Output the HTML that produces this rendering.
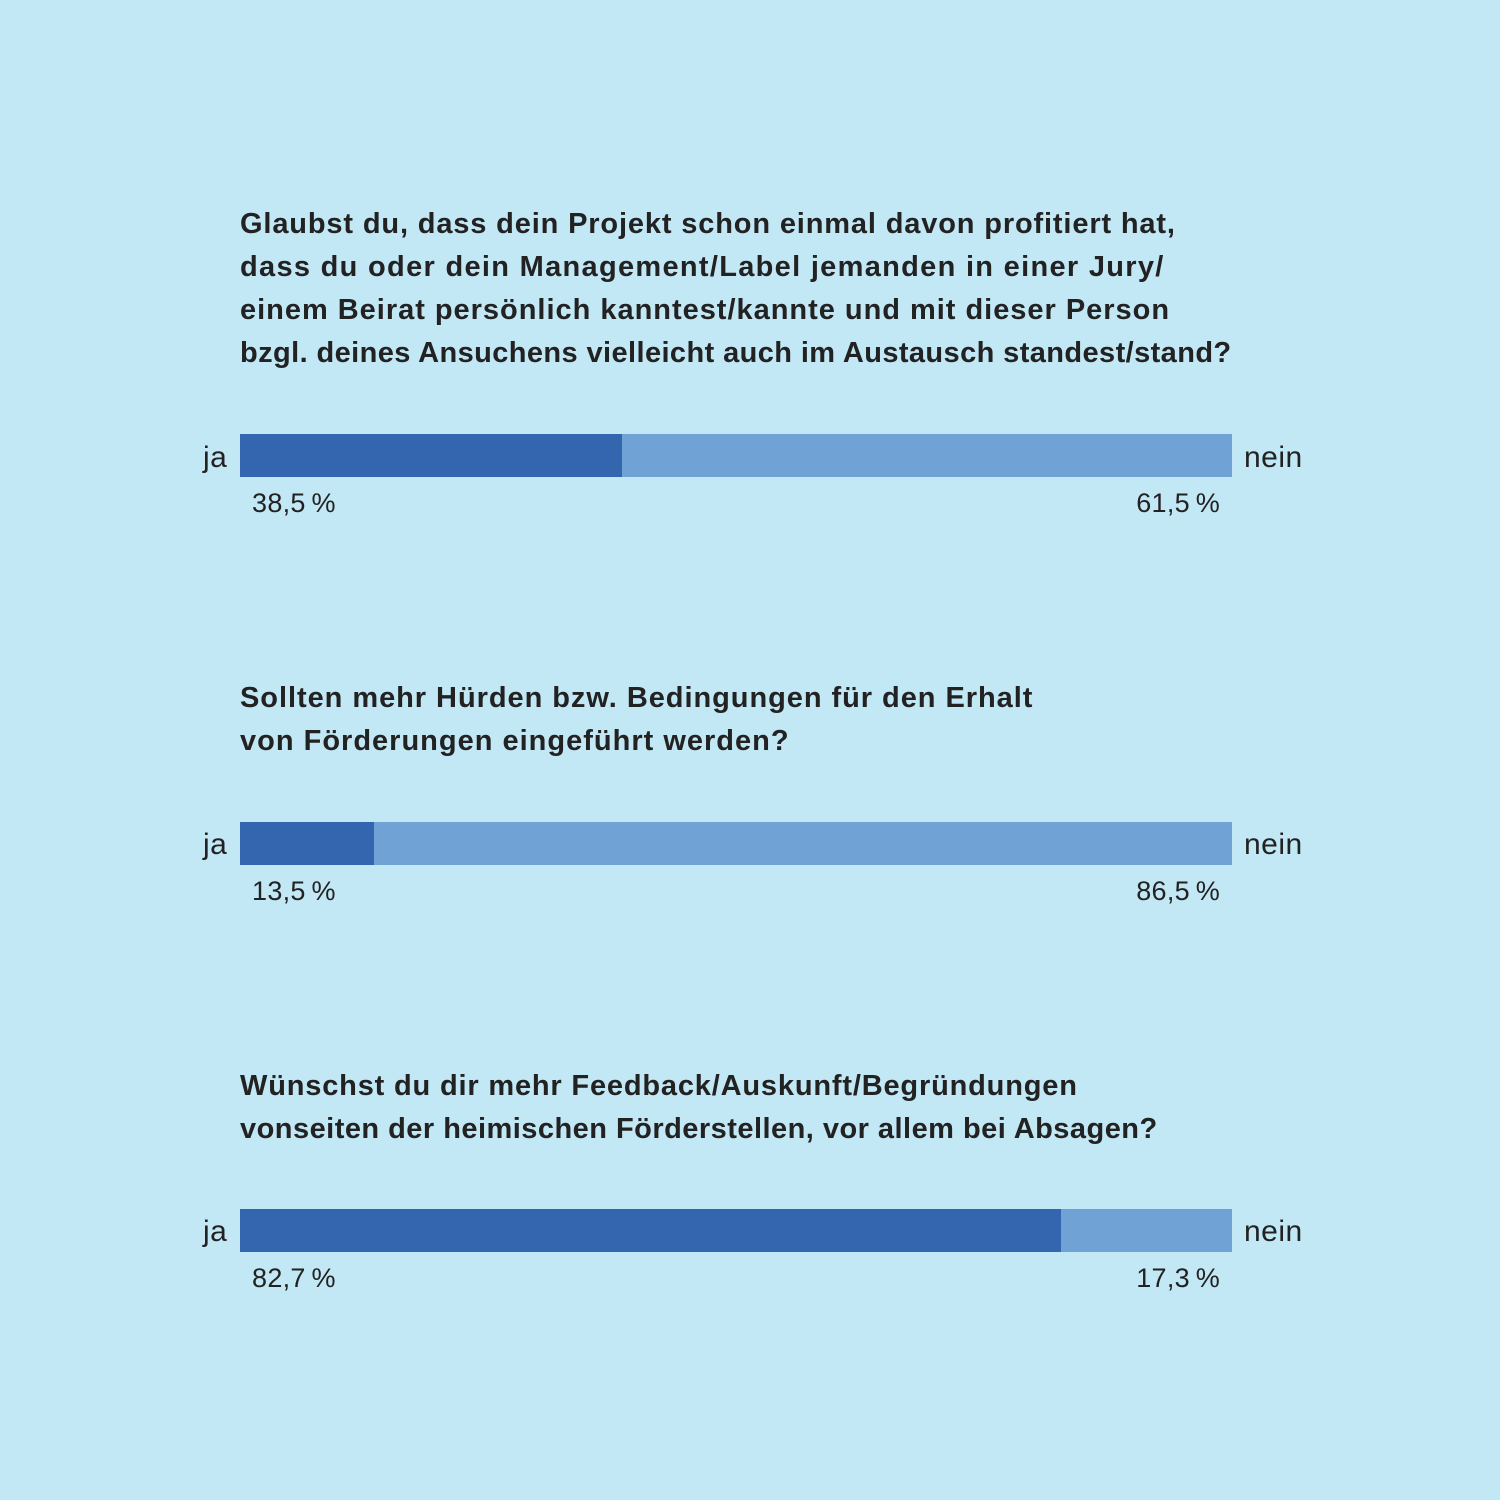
<!DOCTYPE html>
<html><head><meta charset="utf-8"><style>
body{margin:0;width:1500px;height:1500px;background:#c2e7f5;font-family:"Liberation Sans",sans-serif;color:#222;position:relative;overflow:hidden}
.q{position:absolute;left:240px;font-weight:bold;font-size:29px;line-height:43px;letter-spacing:0.7px;white-space:nowrap}
.q span{display:block}
.bar{position:absolute;left:240px;width:992px;height:43px;background:#70a2d5}
.bar div{height:100%;background:#3466b0}
.t{position:absolute;font-size:30px;line-height:43px;letter-spacing:0.5px}
.p{position:absolute;font-size:27px;line-height:30px;letter-spacing:0.3px}
</style></head><body>
<div class="q" style="top:203px"><span style="letter-spacing:0.85px">Glaubst du, dass dein Projekt schon einmal davon profitiert hat,</span><span style="letter-spacing:1.3px">dass du oder dein Management/Label jemanden in einer Jury/</span><span style="letter-spacing:0.98px">einem Beirat persönlich kanntest/kannte und mit dieser Person</span><span style="letter-spacing:0.4px">bzgl. deines Ansuchens vielleicht auch im Austausch standest/stand?</span></div>
<div class="t" style="left:203px;top:436px">ja</div>
<div class="bar" style="top:434px"><div style="width:382px"></div></div>
<div class="t" style="left:1244px;top:436px">nein</div>
<div class="p" style="left:252px;top:488px">38,5&#8201;%</div>
<div class="p" style="right:280px;top:488px">61,5&#8201;%</div>

<div class="q" style="top:677px"><span style="letter-spacing:0.95px">Sollten mehr Hürden bzw. Bedingungen für den Erhalt</span><span style="letter-spacing:1px">von Förderungen eingeführt werden?</span></div>
<div class="t" style="left:203px;top:823px">ja</div>
<div class="bar" style="top:822px"><div style="width:134px"></div></div>
<div class="t" style="left:1244px;top:823px">nein</div>
<div class="p" style="left:252px;top:876px">13,5&#8201;%</div>
<div class="p" style="right:280px;top:876px">86,5&#8201;%</div>

<div class="q" style="top:1065px"><span style="letter-spacing:0.82px">Wünschst du dir mehr Feedback/Auskunft/Begründungen</span><span style="letter-spacing:0.47px">vonseiten der heimischen Förderstellen, vor allem bei Absagen?</span></div>
<div class="t" style="left:203px;top:1210px">ja</div>
<div class="bar" style="top:1209px"><div style="width:821px"></div></div>
<div class="t" style="left:1244px;top:1210px">nein</div>
<div class="p" style="left:252px;top:1263px">82,7&#8201;%</div>
<div class="p" style="right:280px;top:1263px">17,3&#8201;%</div>
</body></html>
